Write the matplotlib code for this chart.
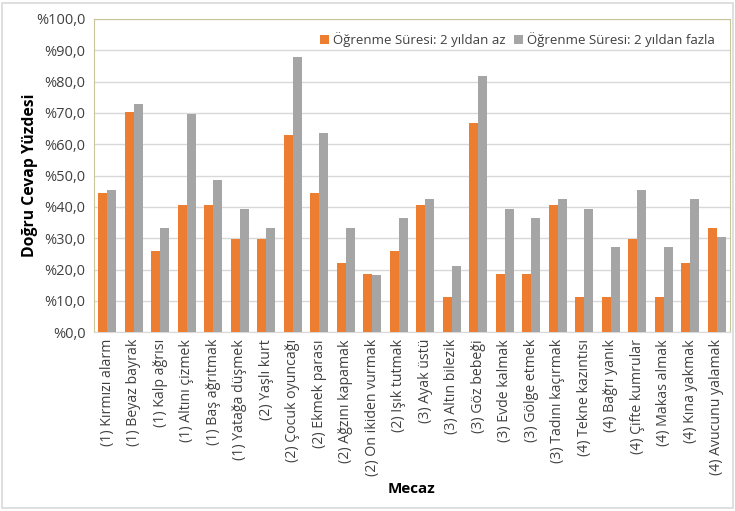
import matplotlib

matplotlib.use("Agg")

import matplotlib.pyplot as plt
import numpy as np
from matplotlib.patches import Rectangle
from matplotlib.ticker import FuncFormatter

plt.rcParams["font.family"] = ["Open Sans", "DejaVu Sans"]

categories = [
    "(1) Kırmızı alarm", "(1) Beyaz bayrak", "(1) Kalp ağrısı", "(1) Altını çizmek",
    "(1) Baş ağrıtmak", "(1) Yatağa düşmek", "(2) Yaşlı kurt", "(2) Çocuk oyuncağı",
    "(2) Ekmek parası", "(2) Ağzını kapamak", "(2) On ikiden vurmak", "(2) Işık tutmak",
    "(3) Ayak üstü", "(3) Altın bilezik", "(3) Göz bebeği", "(3) Evde kalmak",
    "(3) Gölge etmek", "(3) Tadını kaçırmak", "(4) Tekne kazıntısı", "(4) Bağrı yanık",
    "(4) Çifte kumrular", "(4) Makas almak", "(4) Kına yakmak", "(4) Avucunu yalamak",
]
under_two = [44.4, 70.4, 25.9, 40.7, 40.7, 29.6, 29.6, 63.0, 44.4, 22.2, 18.5, 25.9,
             40.7, 11.1, 66.7, 18.5, 18.5, 40.7, 11.1, 11.1, 29.6, 11.1, 22.2, 33.3]
over_two = [45.5, 72.7, 33.3, 69.7, 48.5, 39.4, 33.3, 87.9, 63.6, 33.3, 18.2, 36.4,
            42.4, 21.2, 81.8, 39.4, 36.4, 42.4, 39.4, 27.3, 45.5, 27.3, 42.4, 30.3]
series_names = ["Öğrenme Süresi: 2 yıldan az", "Öğrenme Süresi: 2 yıldan fazla"]

fig = plt.figure(figsize=(7.35, 5.11), dpi=100)
ax = fig.add_axes([0.128, 0.350, 0.865, 0.613])

x = np.arange(len(categories))
w = 0.34
ax.bar(x - w / 2, under_two, w, color="#ED7D31", label=series_names[0], zorder=3)
ax.bar(x + w / 2, over_two, w, color="#A5A5A5", label=series_names[1], zorder=3)

ax.set_xlim(-0.5, len(categories) - 0.5)
ax.set_ylim(0, 100)
ax.set_yticks(np.arange(0, 101, 10))
ax.yaxis.set_major_formatter(FuncFormatter(lambda v, _: f"%{v:.1f}".replace(".", ",")))
ax.grid(axis="y", color="#D9D9D9", linewidth=1, zorder=0)
ax.tick_params(axis="y", length=0, labelsize=10.5, colors="#404040", pad=6)
ax.tick_params(axis="x", length=0, pad=5)
ax.set_xticks(x)
ax.set_xticklabels(categories, rotation=90, fontsize=10.2, color="#404040")

for side in ("top", "right", "left"):
    ax.spines[side].set_color("#C8C59A")
ax.spines["bottom"].set_color("#D9D9D9")

ax.set_ylabel("Doğru Cevap Yüzdesi", fontsize=11.3, fontweight="bold", labelpad=-1)
ax.set_xlabel("Mecaz", fontsize=11, fontweight="bold", labelpad=4)

ax.legend(loc="upper right", ncol=2, frameon=False, fontsize=9.5, handlelength=0.7,
          handleheight=0.7, handletextpad=0.3, columnspacing=0.6,
          bbox_to_anchor=(0.995, 0.995), labelcolor="#404040")

# thin outer frame around the whole chart
fig.patches.append(Rectangle((0.003, 0.005), 0.994, 0.99, transform=fig.transFigure,
                             fill=False, edgecolor="#D9D9D9", linewidth=1.2))

fig.savefig("out.png", dpi=100)
